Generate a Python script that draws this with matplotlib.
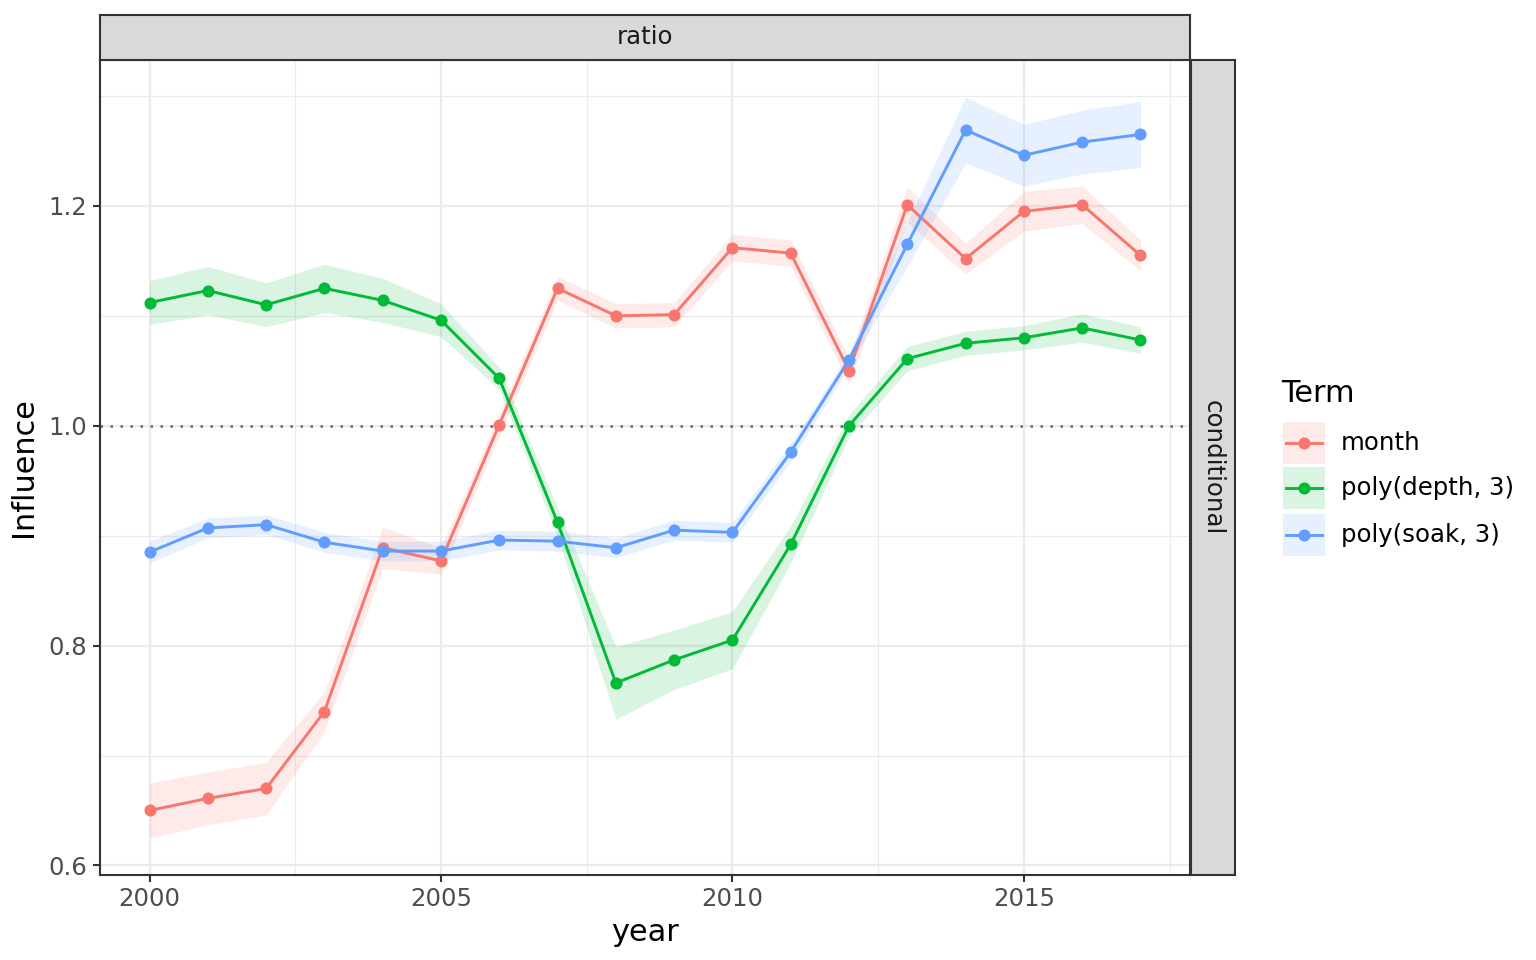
import matplotlib
matplotlib.use("Agg")
import matplotlib.pyplot as plt
from matplotlib.patches import Rectangle
from matplotlib.lines import Line2D
import numpy as np

plt.rcParams['font.family'] = ['DejaVu Sans']

years = list(range(2000, 2018))
terms = ["month", "poly(depth, 3)", "poly(soak, 3)"]
colors = ["#F8766D", "#00BA38", "#619CFF"]

month = [0.650, 0.661, 0.670, 0.740, 0.889, 0.877, 1.001, 1.125, 1.100, 1.101,
         1.162, 1.157, 1.050, 1.201, 1.152, 1.195, 1.201, 1.155]
month_se = [0.025, 0.024, 0.024, 0.018, 0.019, 0.012, 0.010, 0.011, 0.011, 0.011,
            0.012, 0.012, 0.012, 0.016, 0.014, 0.018, 0.017, 0.014]
depth = [1.112, 1.123, 1.110, 1.125, 1.114, 1.096, 1.043, 0.912, 0.766, 0.787,
         0.805, 0.892, 1.000, 1.061, 1.075, 1.080, 1.089, 1.078]
depth_se = [0.020, 0.022, 0.020, 0.022, 0.020, 0.015, 0.010, 0.013, 0.033, 0.027,
            0.026, 0.017, 0.010, 0.011, 0.011, 0.011, 0.013, 0.012]
soak = [0.885, 0.907, 0.910, 0.894, 0.886, 0.886, 0.896, 0.895, 0.889, 0.905,
        0.903, 0.976, 1.060, 1.165, 1.269, 1.246, 1.258, 1.265]
soak_se = [0.010, 0.009, 0.009, 0.009, 0.009, 0.009, 0.009, 0.009, 0.009, 0.009,
           0.009, 0.008, 0.006, 0.020, 0.030, 0.028, 0.029, 0.030]

series = [month, depth, soak]
ses = [month_se, depth_se, soak_se]

x_ticks = [2000, 2005, 2010, 2015]
y_ticks = [0.6, 0.8, 1.0, 1.2]

W, H = 1536, 960
fig = plt.figure(figsize=(10.24, 6.4), dpi=150)

def fx(px):
    return px / W

def fy(py):
    return 1 - py / H

SMALL = 11.7
BIG = 14.6
grey20 = "#333333"
L, R, T, B = 100, 1190, 60, 875
ax = fig.add_axes([fx(L), fy(B), fx(R) - fx(L), fy(T) - fy(B)])

yr = np.array(years)
for vals, se, c in zip(series, ses, colors):
    v = np.array(vals); s = np.array(se)
    ax.fill_between(yr, v - s, v + s, color=c, alpha=0.15, linewidth=0, zorder=2)
for vals, c in zip(series, colors):
    ax.plot(yr, vals, color=c, lw=1.4, zorder=3)
for vals, c in zip(series, colors):
    ax.plot(yr, vals, 'o', color=c, ms=5.8, mew=0, zorder=4)

ax.axhline(1.0, color="#666666", lw=1.2, ls=(0, (1, 3)), zorder=2.5)

allv = np.concatenate([np.array(v) - np.array(s) for v, s in zip(series, ses)] +
                      [np.array(v) + np.array(s) for v, s in zip(series, ses)])
lo, hi = allv.min(), allv.max()
pad = (hi - lo) * 0.05
ax.set_ylim(lo - pad, hi + pad)
xpad = (years[-1] - years[0]) * 0.05
ax.set_xlim(years[0] - xpad, years[-1] + xpad)

ax.set_xticks(x_ticks)
ax.set_xticklabels([str(t) for t in x_ticks])
ax.set_yticks(y_ticks)
ax.set_yticklabels([f"{t:.1f}" for t in y_ticks])
ax.set_xticks([2002.5, 2007.5, 2012.5, 2017.5], minor=True)
ax.set_yticks([0.7, 0.9, 1.1, 1.3], minor=True)
ax.grid(which='major', color="#EBEBEB", lw=1.1, zorder=0)
ax.grid(which='minor', color="#EBEBEB", lw=0.55, zorder=0)
ax.set_axisbelow(True)
ax.tick_params(which='minor', length=0)
ax.tick_params(which='major', length=3.5, width=1.0, color=grey20,
               labelcolor="#4D4D4D", labelsize=SMALL, pad=2.5)
for sp in ax.spines.values():
    sp.set_color(grey20)
    sp.set_linewidth(1.0)
ax.set_xlabel("year", fontsize=BIG, color="black", labelpad=3)
ax.set_ylabel("Influence", fontsize=BIG, color="black", labelpad=5)

# top strip
sax = fig.add_axes([fx(L), fy(T), fx(R) - fx(L), fy(15) - fy(T)])
sax.set_facecolor("#D9D9D9")
sax.set_xticks([]); sax.set_yticks([])
for sp in sax.spines.values():
    sp.set_color(grey20); sp.set_linewidth(1.0)
sax.text(0.5, 0.5, "ratio", ha='center', va='center', fontsize=SMALL, color="#1A1A1A",
         transform=sax.transAxes)

# right strip
rax = fig.add_axes([fx(1191), fy(B), fx(1235) - fx(1191), fy(T) - fy(B)])
rax.set_facecolor("#D9D9D9")
rax.set_xticks([]); rax.set_yticks([])
for sp in rax.spines.values():
    sp.set_color(grey20); sp.set_linewidth(1.0)
rax.text(0.5, 0.5, "conditional", ha='center', va='center', fontsize=SMALL, color="#1A1A1A",
         rotation=-90, transform=rax.transAxes)

# legend
fig.text(fx(1281), fy(393), "Term", fontsize=BIG, ha='left', va='center', color="black")
key_y = [443, 488, 535]
for name, c, ky in zip(terms, colors, key_y):
    kx0, ksz = 1283, 42
    fig.patches.append(Rectangle((fx(kx0), fy(ky + ksz / 2)), fx(ksz), ksz / H,
                                 transform=fig.transFigure, facecolor=c, alpha=0.15,
                                 edgecolor='none'))
    fig.lines.append(Line2D([fx(kx0 + 3), fx(kx0 + ksz - 3)], [fy(ky), fy(ky)],
                            transform=fig.transFigure, color=c, lw=1.4))
    fig.lines.append(Line2D([fx(kx0 + ksz / 2)], [fy(ky)], transform=fig.transFigure,
                            marker='o', color=c, ms=5.8, mew=0))
    fig.text(fx(1341), fy(ky), name, fontsize=SMALL, ha='left', va='center', color="black")

fig.savefig("out.png", dpi=150, facecolor="white")
